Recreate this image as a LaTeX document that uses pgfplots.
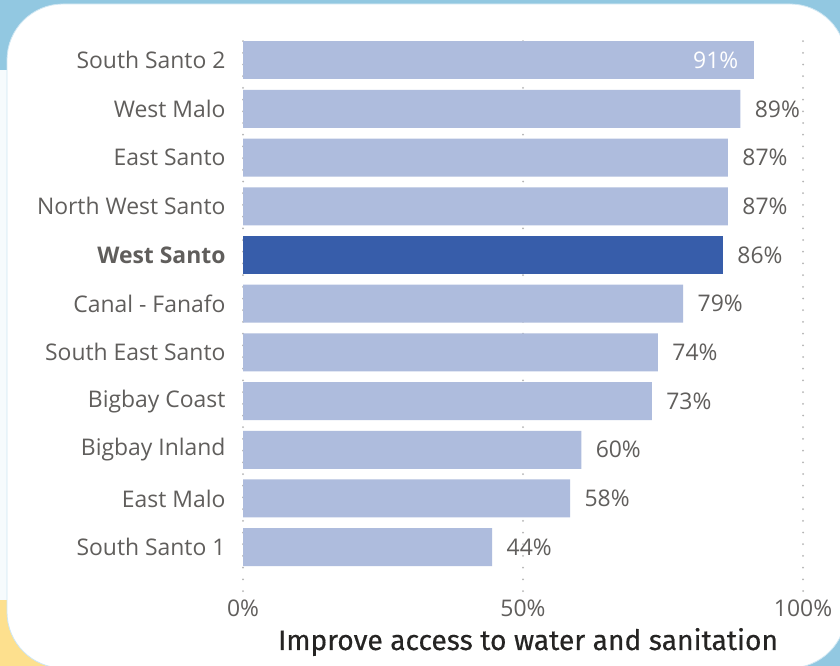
\documentclass[border=0pt]{standalone}
\usepackage{fontspec}
\setmainfont{Open Sans}
\newfontfamily\titlefont[FakeBold=0.35]{Fira Sans}
\usepackage{pgfplots}
\pgfplotsset{compat=1.18}
\definecolor{bgblue}{HTML}{92C8E1}
\definecolor{bgyellow}{HTML}{FDE08E}
\definecolor{barlight}{HTML}{AEBCDD}
\definecolor{bardark}{HTML}{375DAA}
\definecolor{txtgray}{HTML}{605E5C}
\definecolor{gridgray}{HTML}{B4B4B4}
\definecolor{titlecol}{HTML}{252423}
\begin{document}
\begin{tikzpicture}[x=1bp,y=1bp]
\clip (0,0) rectangle (840,-666);
\fill[bgblue] (0,0) rectangle (840,-666);
\fill[bgyellow] (0,-590) rectangle (150,-666);
\fill[white!92!bgblue] (0,-70) rectangle (7,-600);
\draw[fill=white, draw=bgblue!45, line width=0.8bp, rounded corners=56bp] (7,-4) rectangle (846,-668);
\begin{axis}[
  at={(243bp,-591bp)}, anchor=south west,
  scale only axis, width=560bp, height=560bp,
  xmin=0, xmax=100, ymin=-0.9, ymax=10.6,
  xbar, bar width=0.78, bar shift=0pt,
  axis line style={draw=none},
  major tick length=0pt,
  clip=false,
  xtick={0,50,100}, xticklabels={0\%,50\%,100\%},
  xticklabel style={font=\fontsize{23}{23}\selectfont, text=txtgray, yshift=-5bp},
  ytick={0,...,10},
  yticklabels={South Santo 1,East Malo,Bigbay Inland,Bigbay Coast,South East Santo,Canal - Fanafo,\textbf{West Santo},North West Santo,East Santo,West Malo,South Santo 2},
  yticklabel style={font=\fontsize{23}{23}\selectfont, text=txtgray, anchor=east, xshift=-14bp},
  xmajorgrids,
  grid style={gridgray, line width=2bp, dash pattern=on 0pt off 11.7bp, line cap=round},
  point meta=explicit symbolic,
  nodes near coords,
  every node near coord/.append style={font=\fontsize{23}{23}\selectfont, text=txtgray, anchor=west, xshift=11bp},
]
\addplot[fill=barlight, draw=none] coordinates {
  (88.8,9) [89\%]
  (86.6,8) [87\%]
  (86.6,7) [87\%]
  (78.6,5) [79\%]
  (74.1,4) [74\%]
  (73.0,3) [73\%]
  (60.4,2) [60\%]
  (58.4,1) [58\%]
  (44.5,0) [44\%]
};
\addplot[fill=barlight, draw=none, every node near coord/.append style={anchor=east, text=white, xshift=-23bp}] coordinates {
  (91.2,10) [91\%]
};
\addplot[fill=bardark, draw=none] coordinates {
  (85.7,6) [86\%]
};
\end{axis}
\node[font=\titlefont\fontsize{28.3}{28.3}\selectfont, text=titlecol] at (528,-642) {Improve access to water and sanitation};
\end{tikzpicture}
\end{document}
